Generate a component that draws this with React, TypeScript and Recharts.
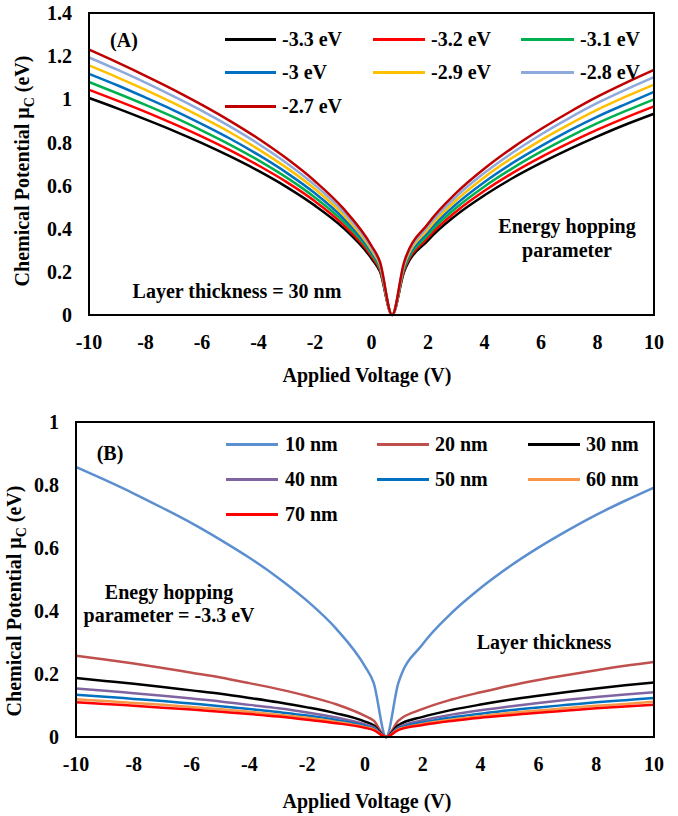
import React from 'react'
import { LineChart, Line, XAxis, YAxis, Legend } from 'recharts'

// applied voltage samples (V)
const voltage = [-10, -9, -8, -7, -6, -5, -4, -3, -2, -1, 0, 0.3, 0.73, 1.15, 2, 3, 4, 5, 6, 7, 8, 9, 10]
const xTicks = [-10, -8, -6, -4, -2, 0, 2, 4, 6, 8, 10]

// panel A: energy hopping parameter, thickness 30 nm
const hoppingLabels = ['-3.3 eV', '-3.2 eV', '-3.1 eV', '-3 eV', '-2.9 eV', '-2.8 eV', '-2.7 eV']
const hoppingColors = ['#000000', '#FF0000', '#00B050', '#0070C0', '#FFC000', '#8EA9DB', '#C00000']
const hop33 = [1.006, 0.958, 0.907, 0.854, 0.797, 0.735, 0.668, 0.593, 0.507, 0.404, 0.262, 0.201, 0, 0.199, 0.346, 0.463, 0.555, 0.635, 0.705, 0.769, 0.828, 0.883, 0.933]
const hop32 = [1.044, 0.994, 0.942, 0.886, 0.827, 0.763, 0.693, 0.616, 0.527, 0.419, 0.272, 0.209, 0, 0.207, 0.359, 0.48, 0.576, 0.659, 0.732, 0.798, 0.859, 0.915, 0.967]
const hop31 = [1.08, 1.028, 0.974, 0.917, 0.855, 0.789, 0.717, 0.637, 0.545, 0.434, 0.282, 0.216, 0, 0.214, 0.372, 0.497, 0.596, 0.681, 0.757, 0.826, 0.889, 0.946, 1.0]
const hop30 = [1.118, 1.065, 1.008, 0.949, 0.885, 0.817, 0.742, 0.659, 0.564, 0.449, 0.292, 0.224, 0, 0.221, 0.385, 0.514, 0.617, 0.705, 0.783, 0.855, 0.92, 0.978, 1.034]
const hop29 = [1.157, 1.102, 1.044, 0.982, 0.916, 0.846, 0.768, 0.682, 0.584, 0.465, 0.302, 0.232, 0, 0.229, 0.398, 0.532, 0.639, 0.73, 0.811, 0.884, 0.952, 1.012, 1.068]
const hop28 = [1.194, 1.137, 1.077, 1.013, 0.946, 0.873, 0.793, 0.704, 0.602, 0.479, 0.311, 0.239, 0, 0.236, 0.411, 0.549, 0.659, 0.753, 0.837, 0.913, 0.983, 1.045, 1.103]
const hop27 = [1.23, 1.171, 1.109, 1.044, 0.974, 0.899, 0.817, 0.725, 0.62, 0.494, 0.321, 0.246, 0, 0.243, 0.423, 0.566, 0.679, 0.776, 0.862, 0.94, 1.012, 1.076, 1.136]
const hoppingValues = [hop33, hop32, hop31, hop30, hop29, hop28, hop27]

// panel B: layer thickness, hopping -3.3 eV
const thicknessLabels = ['10 nm', '20 nm', '30 nm', '40 nm', '50 nm', '60 nm', '70 nm']
const thicknessColors = ['#5B8FD0', '#C0504D', '#000000', '#8064A2', '#0070C0', '#F79646', '#FF0000']
const nm10 = [0.857, 0.816, 0.773, 0.727, 0.679, 0.626, 0.569, 0.505, 0.432, 0.344, 0.224, 0.172, 0, 0.17, 0.295, 0.394, 0.473, 0.541, 0.601, 0.655, 0.705, 0.75, 0.792]
const nm20 = [0.258, 0.246, 0.233, 0.219, 0.204, 0.189, 0.171, 0.152, 0.13, 0.104, 0.067, 0.052, 0, 0.051, 0.089, 0.119, 0.142, 0.163, 0.181, 0.197, 0.212, 0.226, 0.238]
const nm30 = [0.187, 0.178, 0.169, 0.159, 0.148, 0.137, 0.124, 0.11, 0.094, 0.075, 0.049, 0.037, 0, 0.037, 0.064, 0.086, 0.103, 0.118, 0.131, 0.143, 0.154, 0.164, 0.173]
const nm40 = [0.154, 0.147, 0.139, 0.131, 0.122, 0.113, 0.102, 0.091, 0.078, 0.062, 0.04, 0.031, 0, 0.03, 0.053, 0.071, 0.085, 0.097, 0.108, 0.118, 0.127, 0.135, 0.142]
const nm50 = [0.134, 0.128, 0.121, 0.114, 0.106, 0.098, 0.089, 0.079, 0.068, 0.054, 0.035, 0.027, 0, 0.027, 0.046, 0.062, 0.074, 0.085, 0.094, 0.102, 0.11, 0.117, 0.124]
const nm60 = [0.12, 0.114, 0.108, 0.102, 0.095, 0.088, 0.08, 0.071, 0.061, 0.048, 0.031, 0.024, 0, 0.024, 0.041, 0.055, 0.066, 0.076, 0.084, 0.092, 0.099, 0.105, 0.112]
const nm70 = [0.11, 0.105, 0.099, 0.093, 0.087, 0.08, 0.073, 0.065, 0.055, 0.044, 0.029, 0.022, 0, 0.022, 0.038, 0.051, 0.061, 0.069, 0.077, 0.084, 0.091, 0.097, 0.102]
const thicknessValues = [nm10, nm20, nm30, nm40, nm50, nm60, nm70]

const FONT = '"Liberation Serif", "Times New Roman", serif'
const tickStyle = { fill: '#000', fontSize: 20, fontWeight: 700, fontFamily: FONT }

function buildRows(values: number[][]) {
  return voltage.map((v, i) => {
    const row: any = { v }
    values.forEach((s, k) => { row['s' + k] = s[i] })
    return row
  })
}

const rowsA = buildRows(hoppingValues)
const rowsB = buildRows(thicknessValues)

const text = (style: React.CSSProperties, children: React.ReactNode) => (
  <div style={{ position: 'absolute', fontFamily: FONT, fontWeight: 700, fontSize: 20, whiteSpace: 'nowrap', color: '#000', transform: 'translate(-50%, -50%)', ...style }}>
    {children}
  </div>
)

// legend laid out in 3 columns, like the Excel one
function GridLegend({ labels, colors, rows, cols }: any) {
  return (
    <div style={{ position: 'relative' }}>
      {labels.map((lab: string, i: number) => {
        const c = cols[i % 3]
        const y = rows[Math.floor(i / 3)]
        return (
          <div key={lab}>
            <div style={{ position: 'absolute', left: c[0], top: y - 1.5, width: c[1] - c[0], height: 3, background: colors[i] }} />
            <div style={{ position: 'absolute', left: c[2], top: y - 12, fontFamily: FONT, fontWeight: 700, fontSize: 20, lineHeight: '24px', whiteSpace: 'nowrap' }}>{lab}</div>
          </div>
        )
      })}
    </div>
  )
}

function Panel({ top, height, rows, labels, colors, yMax, yTicks, plot, legendRows, legendCols }: any) {
  const [left, right, ptop, pbottom] = plot
  return (
    <div style={{ position: 'absolute', left: 0, top, width: 678, height }}>
      <LineChart width={678} height={height} data={rows} margin={{ top: ptop, right: 678 - right, left: 0, bottom: 0 }}>
        <XAxis
          dataKey="v"
          type="number"
          domain={[-10, 10]}
          ticks={xTicks}
          height={height - pbottom}
          tickLine={false}
          tickMargin={14}
          axisLine={{ stroke: '#000', strokeWidth: 2 }}
          tick={tickStyle}
        />
        <YAxis
          type="number"
          domain={[0, yMax]}
          ticks={yTicks}
          width={left}
          tickLine={false}
          tickMargin={11}
          axisLine={{ stroke: '#000', strokeWidth: 2 }}
          tick={tickStyle}
          tickFormatter={(t: number) => String(+t.toFixed(1))}
        />
        <Legend
          verticalAlign="top"
          wrapperStyle={{ position: 'absolute', left: 0, top: 0, width: 678, height: 0 }}
          content={() => <GridLegend labels={labels} colors={colors} rows={legendRows} cols={legendCols} />}
        />
        {labels.map((lab: string, k: number) => (
          <Line
            key={lab}
            name={lab}
            dataKey={'s' + k}
            type="monotone"
            stroke={colors[k]}
            strokeWidth={2.5}
            dot={false}
            isAnimationActive={false}
          />
        ))}
      </LineChart>
      {/* plot frame */}
      <div style={{ position: 'absolute', left: left - 1, top: ptop - 1, width: right - left + 2, height: pbottom - ptop + 2, border: '2px solid #000', boxSizing: 'border-box', pointerEvents: 'none' }} />
    </div>
  )
}

export default function App() {
  return (
    <div style={{ position: 'absolute', left: 0, top: 0, width: 678, height: 816, background: '#fff' }}>
      <Panel
        top={0}
        height={400}
        rows={rowsA}
        labels={hoppingLabels}
        colors={hoppingColors}
        yMax={1.4}
        yTicks={[0, 0.2, 0.4, 0.6, 0.8, 1, 1.2, 1.4]}
        plot={[89, 654, 13, 315]}
        legendRows={[39, 72, 106]}
        legendCols={[[225, 276, 282], [373, 425, 431], [521, 574, 580]]}
      />
      <Panel
        top={400}
        height={416}
        rows={rowsB}
        labels={thicknessLabels}
        colors={thicknessColors}
        yMax={1}
        yTicks={[0, 0.2, 0.4, 0.6, 0.8, 1]}
        plot={[76, 654, 22, 337]}
        legendRows={[44, 79, 114]}
        legendCols={[[226, 278, 285], [377, 429, 435], [528, 580, 586]]}
      />

      {/* axis titles */}
      {text({ left: 367, top: 375 }, 'Applied Voltage (V)')}
      {text({ left: 367, top: 801 }, 'Applied Voltage (V)')}
      {text({ left: 24, top: 171, transform: 'translate(-50%, -50%) rotate(-90deg)' }, <span>Chemical Potential μ<sub style={{ fontSize: 14 }}>C</sub> (eV)</span>)}
      {text({ left: 16, top: 601, transform: 'translate(-50%, -50%) rotate(-90deg)' }, <span>Chemical Potential μ<sub style={{ fontSize: 14 }}>C</sub> (eV)</span>)}

      {/* annotations */}
      {text({ left: 124, top: 40 }, '(A)')}
      {text({ left: 567, top: 226 }, 'Energy hopping')}
      {text({ left: 567, top: 250 }, 'parameter')}
      {text({ left: 237, top: 291 }, 'Layer thickness = 30 nm')}
      {text({ left: 110, top: 453 }, '(B)')}
      {text({ left: 169, top: 592 }, 'Enegy hopping')}
      {text({ left: 169, top: 615 }, 'parameter = -3.3 eV')}
      {text({ left: 544, top: 642 }, 'Layer thickness')}
    </div>
  )
}
